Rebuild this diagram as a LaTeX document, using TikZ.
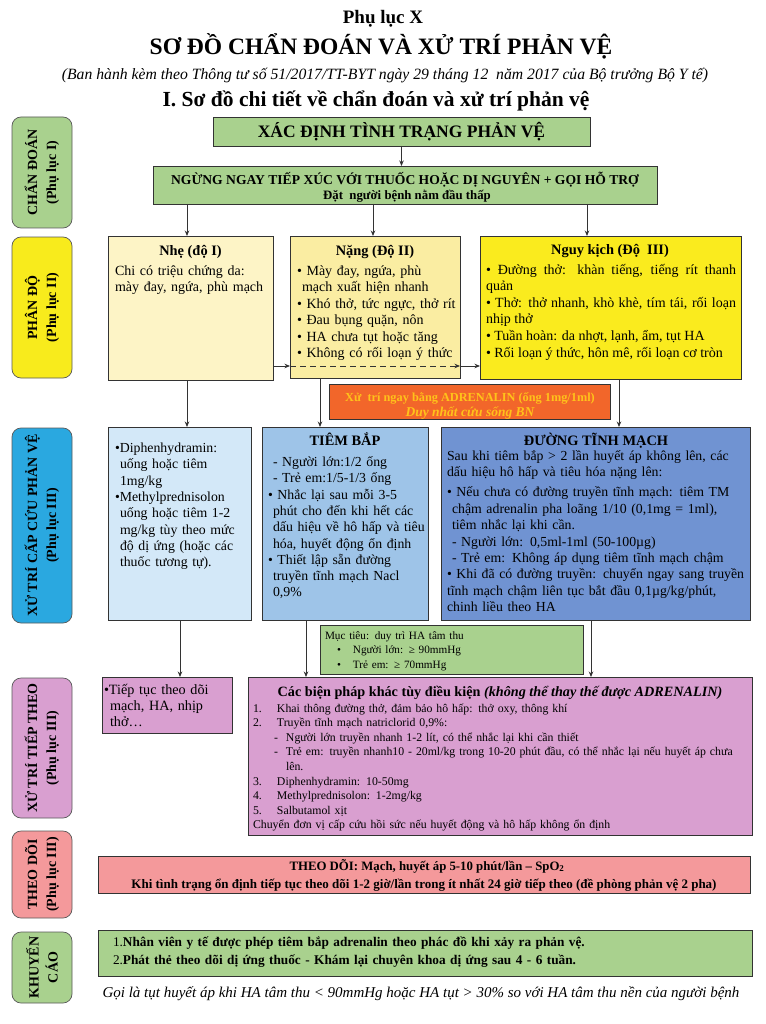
\documentclass[tikz,border=0pt]{standalone}
\usepackage{fontspec}
\setmainfont{Liberation Serif}
\usetikzlibrary{arrows.meta}
\definecolor{cgreen}{HTML}{A9D18E}
\definecolor{cnhe}{HTML}{FDF4C6}
\definecolor{cnang}{HTML}{FAEDA2}
\definecolor{cnguy}{HTML}{FAEB1E}
\definecolor{cadr}{HTML}{F2662A}
\definecolor{cadrt}{HTML}{FFC21A}
\definecolor{cdiph}{HTML}{D3E8F8}
\definecolor{ctb}{HTML}{9EC4E8}
\definecolor{cdtm}{HTML}{7093D2}
\definecolor{clblue}{HTML}{2AA8E0}
\definecolor{cpink}{HTML}{D99FD0}
\definecolor{csalmon}{HTML}{F4999B}
\definecolor{clyel}{HTML}{F8EB1C}
\definecolor{cline}{HTML}{333333}
\begin{document}
\begin{tikzpicture}[x=1pt,y=-1pt,
 box/.style={draw=cline, line width=0.9pt, anchor=north west, inner sep=0pt, outer sep=0pt},
 lab/.style={draw=black!65, line width=0.7pt, rounded corners=9pt, anchor=north west, inner sep=0pt, outer sep=0pt},
 labt/.style={rotate=90, font=\bfseries\fontsize{14}{19}\selectfont, align=center, inner sep=0pt},
 arr/.style={draw=cline, line width=0.8pt, -{Stealth[length=5.5pt,width=4.5pt]}},
 body/.style={anchor=base west, inner sep=0pt, outer sep=0pt, align=left, text width=320pt, font=\fontsize{13.8}{16.4}\selectfont},
 head/.style={anchor=base, inner sep=0pt, font=\bfseries\fontsize{14.4}{16.4}\selectfont},
 ctext/.style={anchor=base, inner sep=0pt},
]
\useasboundingbox (0,0) rectangle (765,1024);
\fill[white] (0,0) rectangle (765,1024);

% ---------- titles ----------
\node[ctext, font=\bfseries\fontsize{19}{22}\selectfont] (pl) at (383,24) {Phụ lục X};
\node[ctext, font=\bfseries\fontsize{23.5}{26}\selectfont] (title) at (381,55) {SƠ ĐỒ CHẨN ĐOÁN VÀ XỬ TRÍ PHẢN VỆ};
\node[ctext, font=\itshape\fontsize{15.7}{18}\selectfont] (sub) at (385,80) {(Ban hành kèm theo Thông tư số 51/2017/TT-BYT ngày 29 tháng 12\ \ năm 2017 của Bộ trưởng Bộ Y tế)};
\node[ctext, font=\bfseries\fontsize{21.5}{24}\selectfont] (sec) at (376,107) {I. Sơ đồ chi tiết về chẩn đoán và xử trí phản vệ};

% ---------- left labels ----------
\node[lab, fill=cgreen, minimum width=60pt, minimum height=111pt] (L1) at (12,117) {};
\node[labt] (L1t) at (L1.center) {CHẨN ĐOÁN\\(Phụ lục I)};
\node[lab, fill=clyel, minimum width=60pt, minimum height=141pt] (L2) at (12,237) {};
\node[labt] (L2t) at (L2.center) {PHÂN ĐỘ\\(Phụ lục II)};
\node[lab, fill=clblue, minimum width=60pt, minimum height=195pt] (L3) at (12,428) {};
\node[labt] (L3t) at (L3.center) {XỬ TRÍ CẤP CỨU PHẢN VỆ\\(Phụ lục III)};
\node[lab, fill=cpink, minimum width=60pt, minimum height=140pt] (L4) at (12,678) {};
\node[labt] (L4t) at (L4.center) {XỬ TRÍ TIẾP THEO\\(Phụ lục III)};
\node[lab, fill=csalmon, minimum width=60pt, minimum height=87pt] (L5) at (12,831) {};
\node[labt] (L5t) at (L5.center) {THEO DÕI\\(Phụ lục III)};
\node[lab, fill=cgreen, minimum width=60pt, minimum height=71pt] (L6) at (12,932) {};
\node[labt] (L6t) at (L6.center) {KHUYẾN\\CÁO};

% ---------- diagnosis ----------
\node[box, fill=cgreen, minimum width=377pt, minimum height=29pt, font=\bfseries\fontsize{17.5}{20}\selectfont] (xacdinh) at (213,117) {XÁC ĐỊNH TÌNH TRẠNG PHẢN VỆ};
\node[box, fill=cgreen, minimum width=504pt, minimum height=38pt] (ngung) at (153,166) {};
\node[ctext, font=\bfseries\fontsize{13.6}{15}\selectfont] (ngung1) at (405,185) {NGỪNG NGAY TIẾP XÚC VỚI THUỐC HOẶC DỊ NGUYÊN + GỌI HỖ TRỢ};
\node[ctext, font=\bfseries\fontsize{12.8}{14}\selectfont] (ngung2) at (407,200) {Đặt\ \ người bệnh nằm đầu thấp};

% ---------- grading ----------
\node[box, fill=cnhe, minimum width=165pt, minimum height=144pt] (nhe) at (108,236) {};
\node[head] (nheh) at (190.5,255) {Nhẹ (độ I)};
\node[body, font=\fontsize{14}{16.4}\selectfont] (nheb) at (115,275) {Chi có triệu chứng da:\\mày đay, ngứa, phù mạch};

\node[box, fill=cnang, minimum width=170pt, minimum height=142pt] (nang) at (290,236) {};
\node[head] (nangh) at (375,255) {Nặng (Độ II)};
\node[body, font=\fontsize{14}{16.4}\selectfont] (nangb) at (297,275.5) {• Mày đay, ngứa, phù\\\hspace*{5pt}mạch xuất hiện nhanh\\• Khó thở, tức ngực, thở rít\\• Đau bụng quặn, nôn\\• HA chưa tụt hoặc tăng\\• Không có rối loạn ý thức};

\node[box, fill=cnguy, minimum width=261pt, minimum height=143pt] (nguy) at (480,236) {};
\node[head] (nguyh) at (610,254) {Nguy kịch (Độ\ \ III)};
\node[body, text width=250pt, align=justify, font=\fontsize{14}{16.6}\selectfont] (nguyb) at (486,274) {• Đường thở: khàn tiếng, tiếng rít thanh\linebreak quản\\• Thở: thở nhanh, khò khè, tím tái, rối loạn\linebreak nhịp thở\\• Tuần hoàn: da nhợt, lạnh, ẩm, tụt HA\\• Rối loạn ý thức, hôn mê, rối loạn cơ tròn};

% ---------- adrenalin ----------
\node[box, fill=cadr, minimum width=281pt, minimum height=35pt] (adr) at (329,384) {};
\node[ctext, text=cadrt, font=\bfseries\fontsize{12.3}{14}\selectfont] (adr1) at (470,401) {Xử\ \ trí ngay bằng ADRENALIN (ống 1mg/1ml)};
\node[ctext, text=cadrt, font=\bfseries\itshape\fontsize{13.5}{15}\selectfont] (adr2) at (470,416) {Duy nhất cứu sống BN};

% ---------- emergency ----------
\node[box, fill=cdiph, minimum width=143pt, minimum height=193pt] (diph) at (108,427) {};
\node[body, font=\fontsize{13.8}{16.3}\selectfont] (diphb) at (115,452.5) {•Diphenhydramin:\\\hspace*{5pt}uống hoặc tiêm\\\hspace*{5pt}1mg/kg\\•Methylprednisolon\\\hspace*{5pt}uống hoặc tiêm 1-2\\\hspace*{5pt}mg/kg tùy theo mức\\\hspace*{5pt}độ dị ứng (hoặc các\\\hspace*{5pt}thuốc tương tự).};

\node[box, fill=ctb, minimum width=166pt, minimum height=193pt] (tb) at (262,427) {};
\node[head] (tbh) at (345,445) {TIÊM BẮP};
\node[body, font=\fontsize{13.8}{16.3}\selectfont] (tbb) at (268,466.5) {\hspace*{5pt}- Người lớn:1/2 ống\\\hspace*{5pt}- Trẻ em:1/5-1/3 ống\\• Nhắc lại sau mỗi 3-5\\\hspace*{5pt}phút cho đến khi hết các\\\hspace*{5pt}dấu hiệu về hô hấp và tiêu\\\hspace*{5pt}hóa, huyết động ổn định\\• Thiết lập sẵn đường\\\hspace*{5pt}truyền tĩnh mạch Nacl\\\hspace*{5pt}0,9\%};

\node[box, fill=cdtm, minimum width=309pt, minimum height=193pt] (dtm) at (441,427) {};
\node[head] (dtmh) at (596,445) {ĐƯỜNG TĨNH MẠCH};
\node[body, font=\fontsize{13.8}{16.4}\selectfont] (dtmb) at (447,460) {Sau khi tiêm bắp > 2 lần huyết áp không lên, các\\dấu hiệu hô hấp và tiêu hóa nặng lên:\\[4pt]• Nếu chưa có đường truyền tĩnh mạch: tiêm TM\\\hspace*{5pt}chậm adrenalin pha loãng 1/10 (0,1mg = 1ml),\\\hspace*{5pt}tiêm nhắc lại khi cần.\\\hspace*{5pt}- Người lớn: 0,5ml-1ml (50-100µg)\\\hspace*{5pt}- Trẻ em: Không áp dụng tiêm tĩnh mạch chậm\\• Khi đã có đường truyền: chuyển ngay sang truyền\\tĩnh mạch chậm liên tục bắt đầu 0,1µg/kg/phút,\\chinh liều theo HA};

% ---------- target ----------
\node[box, fill=cgreen, minimum width=263pt, minimum height=49pt] (muc) at (320,625) {};
\node[body, font=\fontsize{11.2}{14.5}\selectfont] (mucb) at (325,639) {Mục tiêu: duy trì HA tâm thu\\\hspace*{12pt}•\hspace*{12pt}Người lớn: ≥ 90mmHg\\\hspace*{12pt}•\hspace*{12pt}Trẻ em: ≥ 70mmHg};

% ---------- follow-up treatment ----------
\node[box, fill=cpink, minimum width=130pt, minimum height=56pt] (tiep) at (102,677) {};
\node[body, font=\fontsize{14.2}{16}\selectfont] (tiepb) at (104,694.5) {•Tiếp tục theo dõi\\\hspace*{6pt}mạch, HA, nhịp\\\hspace*{6pt}thở…};

\node[box, fill=cpink, minimum width=504pt, minimum height=158pt] (cac) at (248,677) {};
\node[ctext, font=\bfseries\fontsize{14.2}{16}\selectfont] (cach) at (500,696) {Các biện pháp khác tùy điều kiện \textit{(không thể thay thế được ADRENALIN)}};
\node[body, text width=495pt, font=\fontsize{11.8}{14.6}\selectfont] (cacb) at (253,712) {\makebox[24pt][l]{1.}Khai thông đường thở, đảm bảo hô hấp: thở oxy, thông khí\\
\makebox[24pt][l]{2.}Truyền tĩnh mạch natriclorid 0,9\%:\\
\hspace*{21pt}\makebox[12pt][l]{-}Người lớn truyền nhanh 1-2 lít, có thể nhắc lại khi cần thiết\\
\hspace*{21pt}\makebox[12pt][l]{-}Trẻ em: truyền nhanh10 - 20ml/kg trong 10-20 phút đầu, có thể nhắc lại nếu huyết áp chưa\\
\hspace*{33pt}lên.\\
\makebox[24pt][l]{3.}Diphenhydramin: 10-50mg\\
\makebox[24pt][l]{4.}Methylprednisolon: 1-2mg/kg\\
\makebox[24pt][l]{5.}Salbutamol xịt\\
Chuyển đơn vị cấp cứu hồi sức nếu huyết động và hô hấp không ổn định};

% ---------- monitoring ----------
\node[box, fill=csalmon, minimum width=652pt, minimum height=37pt] (theo) at (98,856) {};
\node[ctext, font=\bfseries\fontsize{12.8}{14}\selectfont] (theo1) at (427,870) {THEO DÕI: Mạch, huyết áp 5-10 phút/lần – SpO\textsubscript{2}};
\node[ctext, font=\bfseries\fontsize{13}{14}\selectfont] (theo2) at (424,888) {Khi tình trạng ổn định tiếp tục theo dõi 1-2 giờ/lần trong ít nhất 24 giờ tiếp theo (đề phòng phản vệ 2 pha)};

% ---------- recommendation ----------
\node[box, fill=cgreen, minimum width=654pt, minimum height=46pt] (khuy) at (98,930) {};
\node[body, text width=630pt, font=\bfseries\fontsize{13.3}{18}\selectfont] (khuyb) at (113,946.5) {{\mdseries 1.}Nhân viên y tế được phép tiêm bắp adrenalin theo phác đồ khi xảy ra phản vệ.\\{\mdseries 2.}Phát thẻ theo dõi dị ứng thuốc - Khám lại chuyên khoa dị ứng sau 4 - 6 tuần.};

\node[ctext, font=\itshape\fontsize{15}{17}\selectfont] (foot) at (421,997) {Gọi là tụt huyết áp khi HA tâm thu < 90mmHg hoặc HA tụt > 30\% so với HA tâm thu nền của người bệnh};

% ---------- connectors ----------
\coordinate (xA) at (187,0);
\coordinate (xB) at (320,0);
\coordinate (xC) at (619,0);
\coordinate (xD) at (180,0);
\coordinate (xE) at (306,0);
\coordinate (xF) at (591,0);
\coordinate (xG) at (587,0);
\coordinate (xH) at (373,0);
\coordinate (yH) at (0,366);

\draw[arr] (xacdinh.south) -- (xacdinh.south |- ngung.north);
\draw[arr] (ngung.south -| xA) -- (nhe.north -| xA);
\draw[arr] (ngung.south -| xH) -- (nang.north -| xH);
\draw[arr] (ngung.south -| xG) -- (nguy.north -| xG);
\draw[arr] (nhe.east |- yH) -- (nang.west |- yH);
\draw[arr, dash pattern=on 6pt off 4pt] (nang.west |- yH) -- (nang.east |- yH);
\draw[arr] (nang.east |- yH) -- (nguy.west |- yH);
\draw[arr] (nhe.south -| xA) -- (diph.north -| xA);
\draw[arr] (nang.south -| xB) -- (tb.north -| xB);
\draw[arr] (nguy.south -| xC) -- (dtm.north -| xC);
\draw[arr] (diph.south -| xD) -- (tiep.north -| xD);
\draw[arr] (tb.south -| xE) -- (cac.north -| xE);
\draw[arr] (dtm.south -| xF) -- (cac.north -| xF);
\end{tikzpicture}
\end{document}
